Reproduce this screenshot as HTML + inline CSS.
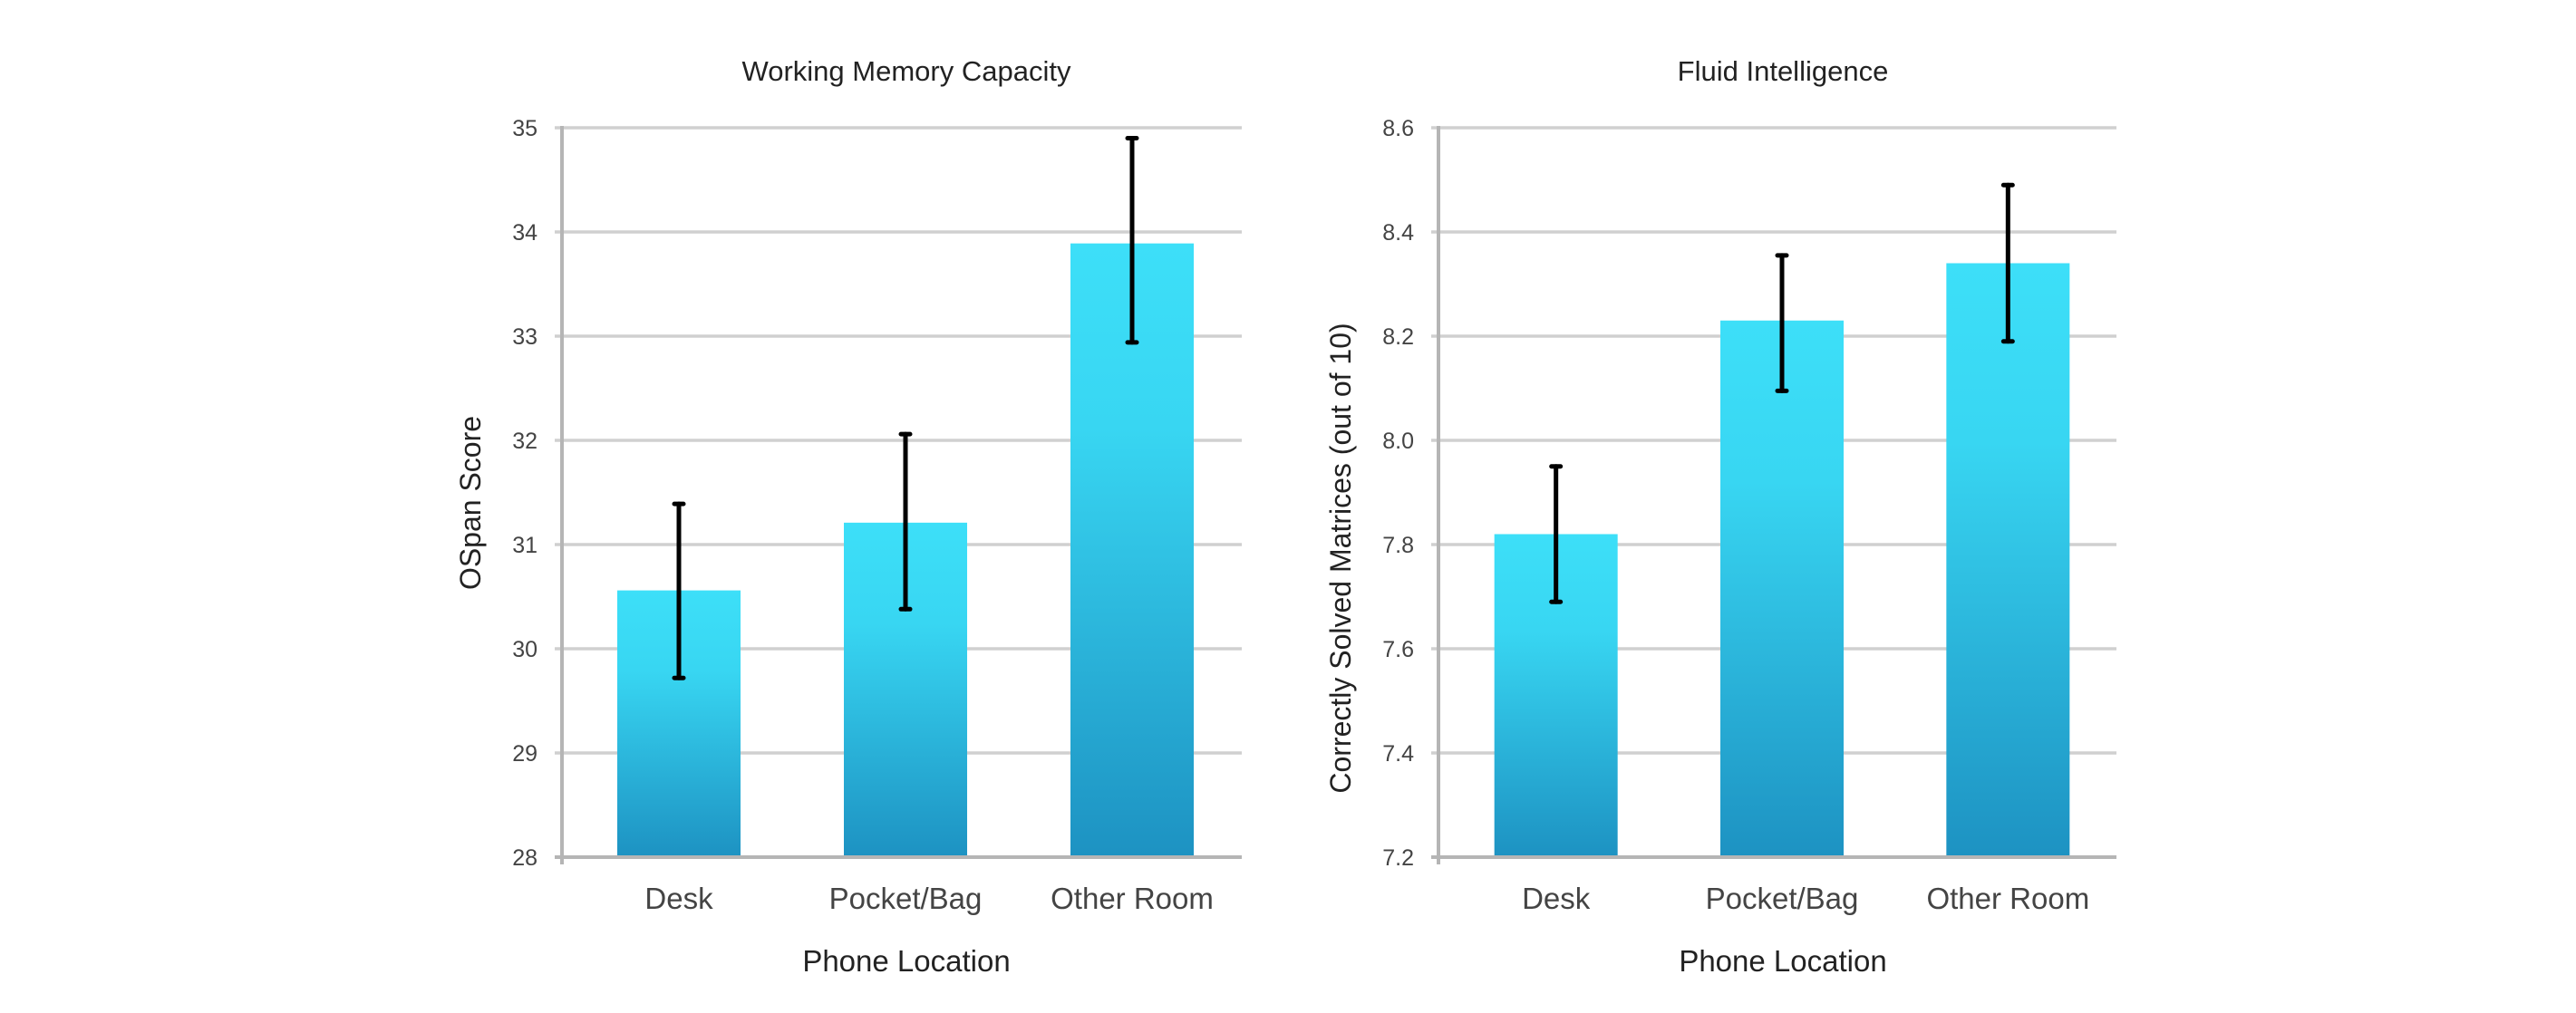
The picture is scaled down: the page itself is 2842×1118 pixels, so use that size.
<!DOCTYPE html>
<html><head><meta charset="utf-8"><style>
html,body{margin:0;padding:0;background:#fff;}
svg{display:block;font-family:"Liberation Sans",sans-serif;}
</style></head><body>
<svg id="chart" width="2842" height="1118" viewBox="0 0 2842 1118" xmlns="http://www.w3.org/2000/svg">
<defs>
<linearGradient id="barGrad" x1="0" y1="0" x2="0" y2="1">
<stop offset="0" stop-color="#3ddff8"/>
<stop offset="0.3" stop-color="#38d6f2"/>
<stop offset="1" stop-color="#1d92c2"/>
</linearGradient>
</defs>
</svg>
<script>
const categories = ["Desk", "Pocket/Bag", "Other Room"];
const wmcValues = [30.56, 31.21, 33.89];
const wmcLow = [29.72, 30.38, 32.94];
const wmcHigh = [31.39, 32.06, 34.90];
const wmcTicks = [28, 29, 30, 31, 32, 33, 34, 35];
const wmcTickLabels = ["28", "29", "30", "31", "32", "33", "34", "35"];
const fiValues = [7.82, 8.23, 8.34];
const fiLow = [7.69, 8.095, 8.19];
const fiHigh = [7.95, 8.355, 8.49];
const fiTicks = [7.2, 7.4, 7.6, 7.8, 8.0, 8.2, 8.4, 8.6];
const fiTickLabels = ["7.2", "7.4", "7.6", "7.8", "8.0", "8.2", "8.4", "8.6"];

const NS = "http://www.w3.org/2000/svg";
const svg = document.getElementById('chart');
function mk(tag, attrs, parent){
  const e = document.createElementNS(NS, tag);
  for (const k in attrs) e.setAttribute(k, attrs[k]);
  (parent||svg).appendChild(e);
  return e;
}

function drawPanel(cfg){
  const g = mk('g', {});
  
  
  const top = 141, bottom = 946;
  const x0 = cfg.axisX, x1 = cfg.right;
  const ymin = cfg.ticks[0], ymax = cfg.ticks[cfg.ticks.length-1];
  const y = v => bottom - (v - ymin) / (ymax - ymin) * (bottom - top);
  const bandW = (x1 - x0) / categories.length;
  const xc = i => x0 + bandW * (i + 0.5) + cfg.shift;
  const barW = 136;

  cfg.ticks.forEach((t, i) => {
    const gl = mk('line', {x1: x0 - 8, x2: x1, y1: y(t), y2: y(t), stroke: '#d0d0d0', 'stroke-width': 3.5}, g);
    
    
    const tl = mk('text', {x: x0 - 27, y: y(t) + 9, 'text-anchor': 'end', 'font-size': 25, fill: '#444'}, g);
    tl.textContent = cfg.tickLabels[i];
    
    
  });

  categories.forEach((c, i) => {
    const b = mk('rect', {x: xc(i) - barW/2, y: y(cfg.values[i]), width: barW, height: bottom - y(cfg.values[i]), fill: 'url(#barGrad)'}, g);
    
    
    const eg = mk('g', {stroke: '#000', 'stroke-width': 5, 'stroke-linecap': 'round'}, g);
    
    
    mk('line', {x1: xc(i), x2: xc(i), y1: y(cfg.low[i]), y2: y(cfg.high[i])}, eg);
    mk('line', {x1: xc(i) - 5, x2: xc(i) + 5, y1: y(cfg.low[i]), y2: y(cfg.low[i])}, eg);
    mk('line', {x1: xc(i) - 5, x2: xc(i) + 5, y1: y(cfg.high[i]), y2: y(cfg.high[i])}, eg);
    const xl = mk('text', {x: xc(i), y: 1003, 'text-anchor': 'middle', 'font-size': 33, fill: '#444'}, g);
    xl.textContent = c;
    
    
  });

  const ax = mk('line', {x1: x0, x2: x0, y1: top - 2, y2: bottom + 8, stroke: '#b5b5b5', 'stroke-width': 4}, g);
  
  
  const bx = mk('line', {x1: x0 - 8, x2: x1, y1: bottom, y2: bottom, stroke: '#b5b5b5', 'stroke-width': 4}, g);
  
  

  const ti = mk('text', {x: cfg.titleX, y: 89, 'text-anchor': 'middle', 'font-size': 31, fill: '#222'}, g);
  ti.textContent = cfg.title;
  
  
  const xt = mk('text', {x: cfg.titleX, y: 1072, 'text-anchor': 'middle', 'font-size': 33, fill: '#222'}, g);
  xt.textContent = 'Phone Location';
  
  
  const yt = mk('text', {x: 0, y: 0, 'text-anchor': 'middle', 'font-size': 32, fill: '#222', transform: 'translate(' + (cfg.yTitleX) + ',' + cfg.yTitleY + ') rotate(-90)'}, g);
  yt.textContent = cfg.yTitle;
  
  
}

drawPanel({id: 'working-memory', axisX: 620, right: 1370, shift: 4, ticks: wmcTicks, tickLabels: wmcTickLabels,
  values: wmcValues, low: wmcLow, high: wmcHigh, title: 'Working Memory Capacity', titleX: 1000,
  yTitle: 'OSpan Score', yTitleX: 530, yTitleY: 555});
drawPanel({id: 'fluid-intelligence', axisX: 1587, right: 2335, shift: 5, ticks: fiTicks, tickLabels: fiTickLabels,
  values: fiValues, low: fiLow, high: fiHigh, title: 'Fluid Intelligence', titleX: 1967,
  yTitle: 'Correctly Solved Matrices (out of 10)', yTitleX: 1490, yTitleY: 616});
</script>
</body></html>
